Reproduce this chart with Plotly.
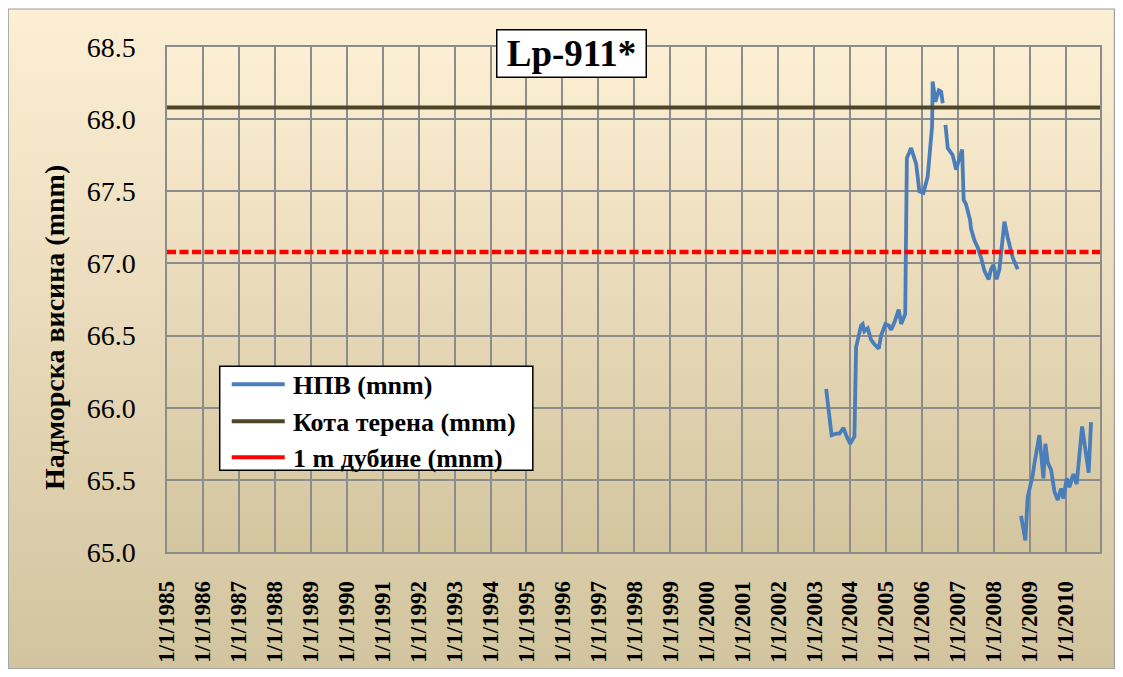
import base64
import plotly.graph_objects as go

# ---------------- data ----------------
npv_dates = [
    "2003-05-04", "2003-06-28", "2003-08-12", "2003-09-15", "2003-10-28", "2003-11-22",
    "2004-01-02", "2004-02-15", "2004-03-03", "2004-04-23", "2004-05-09", "2004-05-26",
    "2004-06-29", "2004-08-03", "2004-09-05", "2004-09-28", "2004-10-19", "2004-11-12",
    "2004-12-26", "2005-01-29", "2005-02-22", "2005-03-27", "2005-05-10", "2005-06-04",
    "2005-07-15", "2005-08-01", "2005-09-13", "2005-11-03", "2005-12-06", "2006-01-16",
    "2006-02-28", "2006-04-14", "2006-04-20", "2006-05-18", "2006-06-21", "2006-07-15",
    "2006-07-31", "2006-08-14", "2006-08-28", "2006-09-20", "2006-11-10", "2006-11-27",
    "2006-12-14", "2007-01-09", "2007-02-13", "2007-03-01", "2007-03-25", "2007-05-05",
    "2007-05-15", "2007-06-18", "2007-07-22", "2007-08-25", "2007-09-27", "2007-11-10",
    "2007-12-04", "2007-12-28", "2008-01-30", "2008-02-27", "2008-04-18", "2008-05-21",
    "2008-07-11", "2008-08-31", "2008-09-15", "2008-10-04", "2008-11-17", "2008-12-10",
    "2009-01-14", "2009-01-30", "2009-02-16", "2009-04-08", "2009-05-19", "2009-06-08",
    "2009-07-02", "2009-08-05", "2009-09-08", "2009-10-12", "2009-11-15", "2009-12-08",
    "2010-01-11", "2010-02-07", "2010-03-20", "2010-04-22", "2010-06-16", "2010-08-22",
    "2010-09-15",
]
npv_values = [
    66.13, 65.81, 65.82, 65.82, 65.86, 65.81,
    65.75, 65.80, 66.42, 66.57, 66.58, 66.53,
    66.55, 66.47, 66.44, 66.42, 66.41, 66.50,
    66.58, 66.57, 66.54, 66.59, 66.68, 66.58,
    66.65, 67.73, 67.80, 67.69, 67.50, 67.49,
    67.60, 67.95, 68.26, 68.12, 68.20, 68.19,
    68.11, None, 67.96, 67.80, 67.75, 67.70,
    67.65, 67.71, 67.79, 67.44, 67.41, 67.30,
    67.24, 67.16, 67.11, 67.04, 66.95, 66.89,
    66.96, 66.99, 66.89, 66.96, 67.29, 67.18,
    67.04, 66.96, None, 65.25, 65.08, 65.38,
    65.47, 65.53, 65.61, 65.81, 65.51, 65.75,
    65.62, 65.57, 65.42, 65.36, 65.44, 65.37,
    65.51, 65.45, 65.54, 65.47, 65.87, 65.55,
    65.90,
]
ref_dates = ["1985-01-01", "2010-12-15"]
kota_terena = [68.08, 68.08]
dubina_1m = [67.08, 67.08]

series_names = ["НПВ (mnm)", "Кота терена (mnm)", "1 m дубине (mnm)"]
chart_title = "Lp-911*"
y_title = "Надморска висина (mnm)"

# ---------------- layout geometry ----------------
# window is 1123x677; page body has an 8px margin, so the figure is 1107x661 at (8,8)
OFF = 8
W, H = 1123 - 2 * OFF, 677 - 2 * OFF
# plot area in window pixels
WPL, WPR, WPT, WPB = 167.3, 1100.0, 46.7, 551.7
PL, PR, PT, PB = WPL - OFF, WPR - OFF, WPT - OFF, WPB - OFF
pw, ph = PR - PL, PB - PT


def px_x(x_win):
    return (x_win - OFF - PL) / pw


def px_y(y_win):
    return (PB - (y_win - OFF)) / ph


FONT = "Liberation Serif"

svg = f"""<svg xmlns='http://www.w3.org/2000/svg' width='{W}' height='{H}' viewBox='0 0 {W} {H}' preserveAspectRatio='none'>
<defs>
<linearGradient id='g1' x1='0' y1='0' x2='0' y2='1'>
<stop offset='0' stop-color='#FDEFD4'/><stop offset='1' stop-color='#D2C49E'/></linearGradient>
<linearGradient id='g2' x1='0' y1='0' x2='0' y2='1'>
<stop offset='0' stop-color='#FDEFD3'/><stop offset='1' stop-color='#D3C59E'/></linearGradient>
</defs>
<rect x='0.6' y='0.6' width='{W - 1.2}' height='{H - 1.2}' fill='url(#g1)' stroke='#A0A0A0' stroke-width='1.2'/>
<rect x='{PL}' y='{PT}' width='{pw}' height='{ph}' fill='url(#g2)'/>
</svg>"""
svg_uri = "data:image/svg+xml;base64," + base64.b64encode(svg.encode("utf-8")).decode()

BLUE, BROWN, RED = "#4A7EBB", "#4D4527", "#FF0000"
series_colors = [BLUE, BROWN, RED]

fig = go.Figure()
fig.add_trace(go.Scatter(
    x=npv_dates, y=npv_values, mode="lines", name=series_names[0],
    line=dict(color=BLUE, width=3.8), connectgaps=False,
))
fig.add_trace(go.Scatter(
    x=ref_dates, y=kota_terena, mode="lines", name=series_names[1],
    line=dict(color=BROWN, width=4),
))
fig.add_trace(go.Scatter(
    x=ref_dates, y=dubina_1m, mode="lines", name=series_names[2],
    line=dict(color=RED, width=4.5, dash="9px,3.5px"),
))

# ---------------- legend box (drawn as in the original) ----------------
LX0, LX1, LY0, LY1 = 220, 533, 366, 470
row_y = [384, 421, 457]
shapes = [dict(
    type="rect", xref="paper", yref="paper",
    x0=px_x(LX0), x1=px_x(LX1), y0=px_y(LY1), y1=px_y(LY0),
    fillcolor="white", line=dict(color="black", width=1.5), layer="above",
)]
annotations = []
for name, col, ry in zip(series_names, series_colors, row_y):
    shapes.append(dict(
        type="line", xref="paper", yref="paper",
        x0=px_x(232), x1=px_x(285), y0=px_y(ry), y1=px_y(ry),
        line=dict(color=col, width=4), layer="above",
    ))
    annotations.append(dict(
        text=f"<b>{name}</b>", xref="paper", yref="paper",
        x=px_x(291), y=px_y(ry + 1), xanchor="left", yanchor="middle",
        showarrow=False, font=dict(family=FONT, size=26, color="black"),
    ))

annotations += [
    dict(
        text=f"<b>{chart_title}</b>", xref="paper", yref="paper",
        x=px_x(572), y=px_y(53.5), xanchor="center", yanchor="middle",
        showarrow=False, font=dict(family=FONT, size=37, color="black"),
        bgcolor="white", bordercolor="black", borderwidth=1.5,
        width=146, height=44,
    ),
    dict(
        text=f"<b>{y_title}</b>", xref="paper", yref="paper",
        x=px_x(55), y=px_y(327), xanchor="center", yanchor="middle",
        textangle=-90, showarrow=False,
        font=dict(family=FONT, size=28, color="black"),
    ),
]

grid_col = "#8C8C8C"
fig.update_layout(
    width=W, height=H,
    margin=dict(l=PL, r=W - PR, t=PT, b=H - PB, pad=0, autoexpand=False),
    paper_bgcolor="white",
    plot_bgcolor="rgba(0,0,0,0)",
    font=dict(family=FONT, color="black"),
    showlegend=False,
    images=[dict(
        source=svg_uri, xref="paper", yref="paper",
        x=-PL / pw, y=PB / ph, sizex=W / pw, sizey=H / ph,
        xanchor="left", yanchor="top", sizing="stretch", layer="below",
    )],
    xaxis=dict(
        type="date", range=["1985-01-01", "2010-12-15"],
        tick0="1985-01-01", dtick="M12", tickformat="%-m/%-d/%Y",
        tickangle=-90, tickfont=dict(family=FONT, size=23, weight="bold"),
        showgrid=True, gridcolor=grid_col, gridwidth=1.5,
        showline=True, linecolor=grid_col, linewidth=1.5, mirror=True,
        ticks="", ticklabelstandoff=18, zeroline=False, automargin=False,
    ),
    yaxis=dict(
        range=[65.0, 68.5], dtick=0.5, tick0=65.0, tickformat=".1f",
        tickfont=dict(family=FONT, size=28),
        showgrid=True, gridcolor=grid_col, gridwidth=1.5,
        showline=True, linecolor=grid_col, linewidth=1.5, mirror=True,
        ticks="", ticklabelstandoff=24, zeroline=False, automargin=False,
    ),
    shapes=shapes,
    annotations=annotations,
)

fig.write_html("out.html")
